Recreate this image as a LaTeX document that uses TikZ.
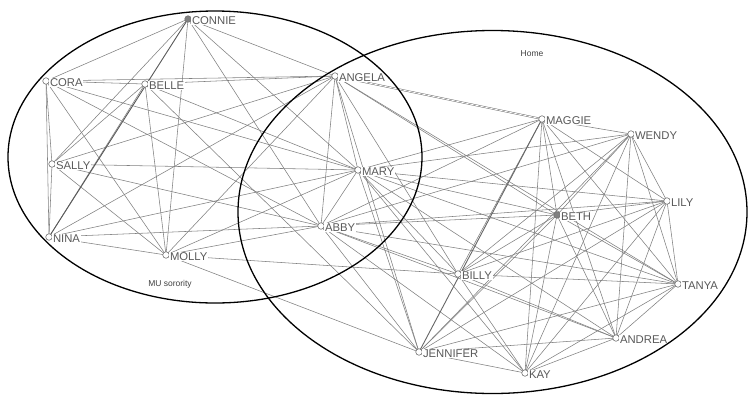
\documentclass[tikz,border=0pt]{standalone}
\usepackage{fontspec}
\setmainfont{Liberation Sans}
\begin{document}
\begin{tikzpicture}[x=1pt,y=-1pt,
  edge/.style={draw=black!50, line width=0.55pt},
  vtx/.style={circle, draw=black!55, fill=white, line width=0.6pt, inner sep=0pt, minimum size=6.5pt},
  vtxf/.style={vtx, fill=black!50},
  lab/.style={anchor=west, text=black!65, font=\fontsize{11.3}{13}\selectfont, inner sep=0.6pt, fill=white},
  grp/.style={draw=black, line width=1.3pt},
  grplab/.style={text=black!75, font=\fontsize{8.5}{10}\selectfont}]
\useasboundingbox (0,0) rectangle (754,402);
\fill[white] (0,0) rectangle (754,402);
% node positions
\coordinate (CONNIE) at (188,19);
\coordinate (CORA) at (46,81);
\coordinate (BELLE) at (145,84);
\coordinate (ANGELA) at (335,76);
\coordinate (SALLY) at (52,164);
\coordinate (MARY) at (358,170);
\coordinate (NINA) at (49,237);
\coordinate (MOLLY) at (166,255);
\coordinate (ABBY) at (321,226);
\coordinate (MAGGIE) at (542,119);
\coordinate (WENDY) at (631,134);
\coordinate (LILY) at (667,201);
\coordinate (BETH) at (557,215);
\coordinate (BILLY) at (458,274);
\coordinate (TANYA) at (678,284);
\coordinate (ANDREA) at (616,338);
\coordinate (JENNIFER) at (419,352);
\coordinate (KAY) at (525,373);
% edges
\foreach \a/\b in {CONNIE/CORA, CONNIE/SALLY, CONNIE/MOLLY, CONNIE/ANGELA, CONNIE/MARY, CONNIE/ABBY,
  CORA/BELLE, CORA/ANGELA, CORA/SALLY, CORA/NINA, CORA/MOLLY, CORA/ABBY, CORA/MARY,
  BELLE/ANGELA, BELLE/SALLY, BELLE/NINA, BELLE/MOLLY, BELLE/MARY, BELLE/JENNIFER,
  SALLY/NINA, SALLY/MARY, SALLY/ANGELA, SALLY/ABBY, SALLY/MOLLY,
  NINA/MOLLY, NINA/ABBY, NINA/MARY, NINA/ANGELA,
  MOLLY/ANGELA, MOLLY/ABBY, MOLLY/MARY, MOLLY/BILLY, MOLLY/JENNIFER,
  ANGELA/MARY, ANGELA/ABBY, ANGELA/BILLY, ANGELA/BETH, ANGELA/TANYA, ANGELA/JENNIFER,
  MARY/ABBY, MARY/MAGGIE, MARY/WENDY, MARY/LILY, MARY/BETH, MARY/TANYA, MARY/ANDREA, MARY/BILLY, MARY/KAY, MARY/JENNIFER,
  ABBY/BETH, ABBY/LILY, ABBY/BILLY, ABBY/ANDREA, ABBY/TANYA, ABBY/JENNIFER, ABBY/KAY, ABBY/MAGGIE, ABBY/WENDY,
  MAGGIE/WENDY, MAGGIE/BILLY, MAGGIE/BETH, MAGGIE/LILY, MAGGIE/TANYA, MAGGIE/ANDREA, MAGGIE/KAY,
  WENDY/LILY, WENDY/TANYA, WENDY/ANDREA, WENDY/KAY, WENDY/JENNIFER, WENDY/BILLY, WENDY/BETH,
  LILY/BETH, LILY/TANYA, LILY/ANDREA, LILY/KAY, LILY/JENNIFER, LILY/BILLY,
  BETH/BILLY, BETH/JENNIFER, BETH/KAY, BETH/ANDREA, BETH/TANYA,
  BILLY/TANYA, BILLY/ANDREA, BILLY/KAY,
  TANYA/ANDREA, TANYA/KAY, TANYA/JENNIFER,
  ANDREA/KAY, ANDREA/JENNIFER, JENNIFER/KAY}
  \draw[edge] (\a) -- (\b);
\draw[edge, line width=0.9pt, draw=black!65] (CONNIE) -- (NINA);
\draw[edge, line width=0.9pt, draw=black!60] (MAGGIE) -- (JENNIFER);
\draw[edge, double=white, double distance=0.8pt, line width=0.45pt, draw=black!60] (ANGELA) -- (MAGGIE);
% vertices and labels
\foreach \n in {CORA,BELLE,ANGELA,SALLY,MARY,NINA,MOLLY,ABBY,MAGGIE,WENDY,LILY,BILLY,TANYA,ANDREA,JENNIFER,KAY}
  \node[vtx] (v\n) at (\n) {};
\node[vtxf] (vCONNIE) at (CONNIE) {};
\node[vtxf] (vBETH) at (BETH) {};
\foreach \n in {CONNIE,CORA,BELLE,ANGELA,SALLY,MARY,NINA,MOLLY,ABBY,MAGGIE,WENDY,LILY,BETH,BILLY,TANYA,ANDREA,JENNIFER,KAY}
  \node[lab] (l\n) at ([xshift=3.2pt,yshift=-1.8pt]\n) {\n};
% group ellipses
\draw[grp] (215,157) ellipse [x radius=207, y radius=146];
\draw[grp] (492.5,212) ellipse [x radius=254.5, y radius=181.5];
\node[grplab] (home) at (532,54) {Home};
\node[grplab] (mu) at (170,284) {MU sorority};
\end{tikzpicture}
\end{document}
